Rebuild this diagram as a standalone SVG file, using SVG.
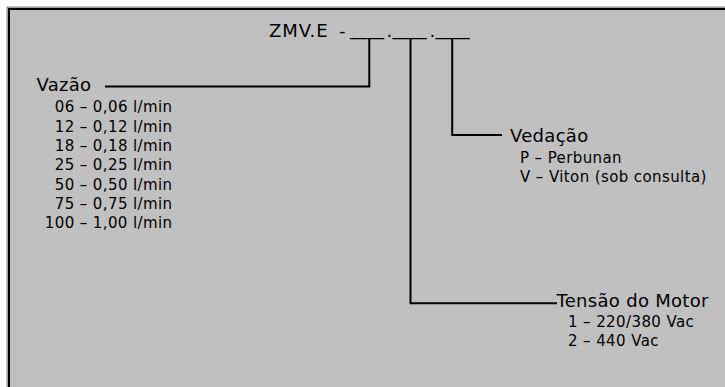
<svg xmlns="http://www.w3.org/2000/svg" width="725" height="387" viewBox="0 0 725 387">
<style>
text{font-family:"DejaVu Sans","Verdana",sans-serif;fill:#000}
.h{font-size:18px;letter-spacing:0.3px}
.s{font-size:15px;letter-spacing:0.4px}
.c{fill:none;stroke:#000;stroke-width:2}
</style>
<rect width="725" height="387" fill="#fff"/>
<rect x="7" y="7" width="760" height="420" fill="#c0c0c0" stroke="#808080" stroke-width="1"/>
<path d="M9,387V9H725" fill="none" stroke="#000" stroke-width="2"/>
<g id="code">
<text class="h" x="269" y="37"><tspan style="letter-spacing:0.9px">ZMV.E</tspan><tspan x="339">-</tspan><tspan x="350" y="35" textLength="34.5" lengthAdjust="spacingAndGlyphs">____</tspan><tspan x="386.5" y="37">.</tspan><tspan x="392.5" y="35" textLength="34.5" lengthAdjust="spacingAndGlyphs">____</tspan><tspan x="429.5" y="37">.</tspan><tspan x="435.5" y="35" textLength="34.5" lengthAdjust="spacingAndGlyphs">____</tspan></text>
</g>
<g id="vazao">
<text class="h" x="36.5" y="90.7">Vazão</text>
<g text-anchor="end">
<text class="s" x="172.5" y="112.3">06 – 0,06 l/min</text>
<text class="s" x="172.5" y="131.6">12 – 0,12 l/min</text>
<text class="s" x="172.5" y="150.9">18 – 0,18 l/min</text>
<text class="s" x="172.5" y="170.2">25 – 0,25 l/min</text>
<text class="s" x="172.5" y="189.5">50 – 0,50 l/min</text>
<text class="s" x="172.5" y="208.8">75 – 0,75 l/min</text>
<text class="s" x="172.5" y="228.1">100 – 1,00 l/min</text>
</g>
</g>
<g id="vedacao">
<text class="h" x="510" y="141.7">Vedação</text>
<text class="s" x="520" y="162.7">P – Perbunan</text>
<text class="s" x="520" y="181.7">V – Viton (sob consulta)</text>
</g>
<g id="tensao">
<text class="h" x="556.5" y="307.3">Tensão do Motor</text>
<text class="s" x="568" y="326.7">1 – 220/380 Vac</text>
<text class="s" x="568" y="345.7">2 – 440 Vac</text>
</g>
<g id="connectors">
<polyline class="c" points="369.3,39 369.3,86.5 105,86.5"/>
<polyline class="c" points="410.5,39 410.5,303.3 557,303.3"/>
<polyline class="c" points="452.2,39 452.2,135 502,135"/>
</g>
</svg>
